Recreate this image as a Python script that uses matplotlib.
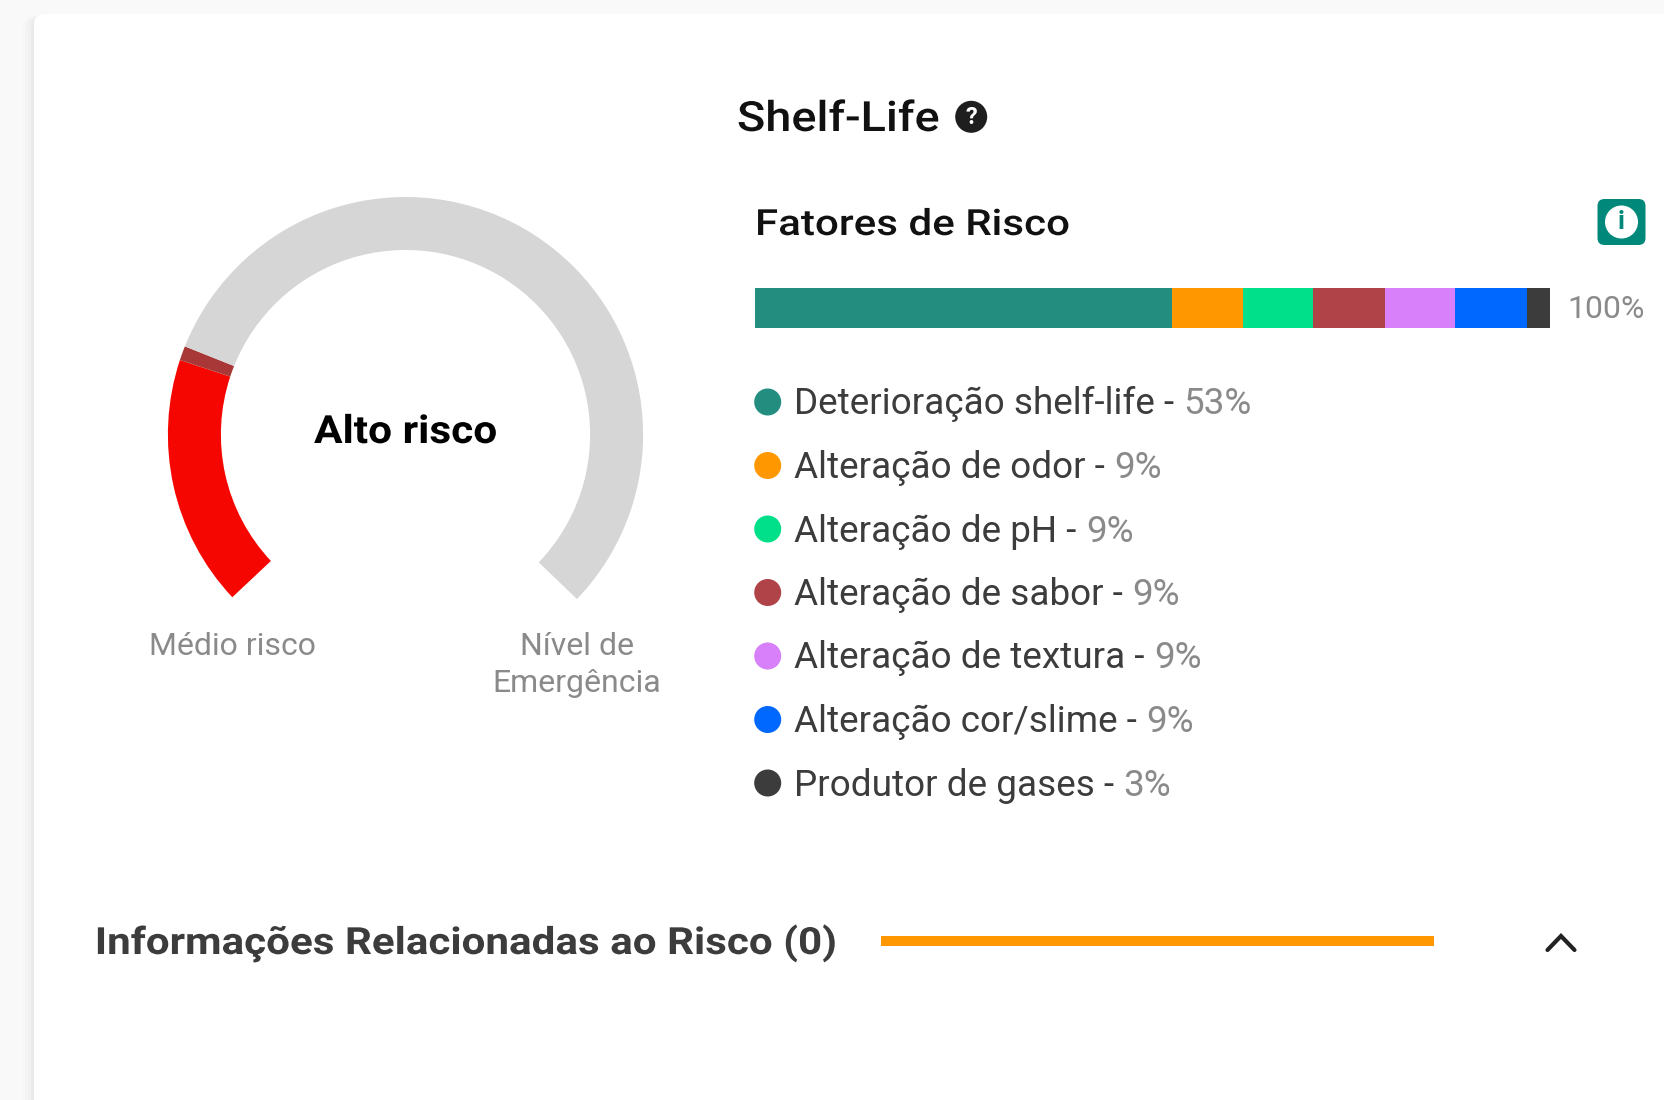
import matplotlib
matplotlib.use("Agg")
import matplotlib.pyplot as plt
from matplotlib.patches import FancyBboxPatch, Circle
from matplotlib.patheffects import AbstractPathEffect
from matplotlib.transforms import Affine2D

plt.rcParams['font.family'] = ['Roboto', 'DejaVu Sans']

# Gauge: degrees of each arc, the last one is the empty gap at the bottom
gauge_values = [61.5, 3.5, 202, 93]
gauge_colors = ["#f60600", "#a83838", "#d6d6d6", "none"]

# Stacked bar
bar_values = [52.5, 8.9, 8.8, 9.0, 8.85, 9.05, 2.9]
bar_colors = ["#238d80", "#ff9800", "#00e08a", "#b04348", "#d880fa", "#0068ff", "#3c3c3c"]

# Legend rows
factor_names = ["Deterioração shelf-life", "Alteração de odor", "Alteração de pH", "Alteração de sabor",
                "Alteração de textura", "Alteração cor/slime", "Produtor de gases"]
factor_labels = ["53%", "9%", "9%", "9%", "9%", "9%", "3%"]


# The headings are letter-spaced in the original, matplotlib has no tracking so widen them a bit
class Widen(AbstractPathEffect):
    def __init__(self, sx):
        super().__init__()
        self.sx = sx

    def draw_path(self, renderer, gc, tpath, affine, rgbFace=None):
        renderer.draw_path(gc, tpath, Affine2D().scale(self.sx, 1) + affine, rgbFace)


W, H = 1665, 1100
fig = plt.figure(figsize=(W / 100, H / 100), dpi=100, facecolor="#f9f9f9")

# Page layer, one unit is one pixel, y goes down
page = fig.add_axes([0, 0, 1, 1])
page.set_xlim(0, W)
page.set_ylim(H, 0)
page.axis("off")

# Card with a soft shadow on its left side
for grow, shade in zip([12, 9, 6, 3, 1], ["#f7f7f7", "#f4f4f4", "#f0f0f0", "#ebebeb", "#e6e6e6"]):
    page.add_patch(FancyBboxPatch((34 - grow, 14 + grow * 0.2), W + 60, H + 60,
                                  boxstyle="round,pad=0,rounding_size=14", fc=shade, ec="none"))
page.add_patch(FancyBboxPatch((34, 14), W + 60, H + 60,
                              boxstyle="round,pad=0,rounding_size=10", fc="white", ec="none"))

# Titles
page.text(737, 131, "Shelf-Life", fontsize=30, fontweight=500, color="#111111", path_effects=[Widen(1.125)])
page.add_patch(Circle((971.2, 116.8), 16, fc="#1e1e1e", ec="none"))
page.text(971.2, 117, "?", fontsize=17, fontweight="bold", color="white", ha="center", va="center")

page.text(755, 235, "Fatores de Risco", fontsize=26, fontweight=500, color="#111111", path_effects=[Widen(1.165)])
page.add_patch(FancyBboxPatch((1597.5, 199), 48, 46, boxstyle="round,pad=0,rounding_size=7", fc="#00897b", ec="none"))
page.add_patch(Circle((1621.5, 222), 16.5, fc="white", ec="none"))
page.text(1621.5, 222, "i", fontsize=19, fontweight="bold", color="#00897b", ha="center", va="center")

# Gauge
gauge = fig.add_axes([(405.5 - 237.6) / W, 1 - (434.6 + 237.6) / H, 475.2 / W, 475.2 / H])
gauge.pie(gauge_values, colors=gauge_colors, startangle=223.2, counterclock=False, radius=1,
          wedgeprops={"width": 53 / 237.6, "linewidth": 0})
gauge.set_xlim(-1, 1)
gauge.set_ylim(-1, 1)
gauge.axis("off")

page.text(314, 443, "Alto risco", fontsize=28, fontweight="bold", color="black", path_effects=[Widen(1.09)])
page.text(232.6, 655, "Médio risco", fontsize=23, color="#8a8a8a", ha="center")
page.text(576.6, 655, "Nível de", fontsize=23, color="#8a8a8a", ha="center")
page.text(576.6, 692, "Emergência", fontsize=23, color="#8a8a8a", ha="center")

# Stacked bar
bar = fig.add_axes([754.7 / W, 1 - 327.5 / H, 795.8 / W, 40 / H])
left = 0
for value, color in zip(bar_values, bar_colors):
    bar.barh(0, value, left=left, height=1, color=color)
    left += value
bar.set_xlim(0, 100)
bar.set_ylim(-0.5, 0.5)
bar.axis("off")
page.text(1567.5, 318, "100%", fontsize=23, color="#8a8a8a")

# Legend rows
row_y = [402, 465.5, 529, 592.5, 656, 719.5, 783]
for y, name, label, color in zip(row_y, factor_names, factor_labels, bar_colors):
    page.add_patch(Circle((767.7, y), 13.5, fc=color, ec="none"))
    t = page.text(794.5, y + 12.5, name + " - ", fontsize=26.6, color="#3c3c3c")
    page.annotate(label, xy=(1, 0), xycoords=t, xytext=(0, 0), textcoords="offset points",
                  fontsize=26.6, color="#8a8a8a", va="bottom")

# Bottom section
page.text(94.8, 954, "Informações Relacionadas ao Risco (0)", fontsize=27, fontweight="bold", color="#3c3c3c",
          path_effects=[Widen(1.124)])
page.plot([881.5, 1434.5], [941, 941], color="#ff9800", lw=7.2, solid_capstyle="butt")
page.plot([1547.5, 1561, 1574.5], [950, 936, 950], color="#222222", lw=3, solid_capstyle="round", solid_joinstyle="miter")

fig.savefig("out.png", dpi=100, facecolor=fig.get_facecolor())
